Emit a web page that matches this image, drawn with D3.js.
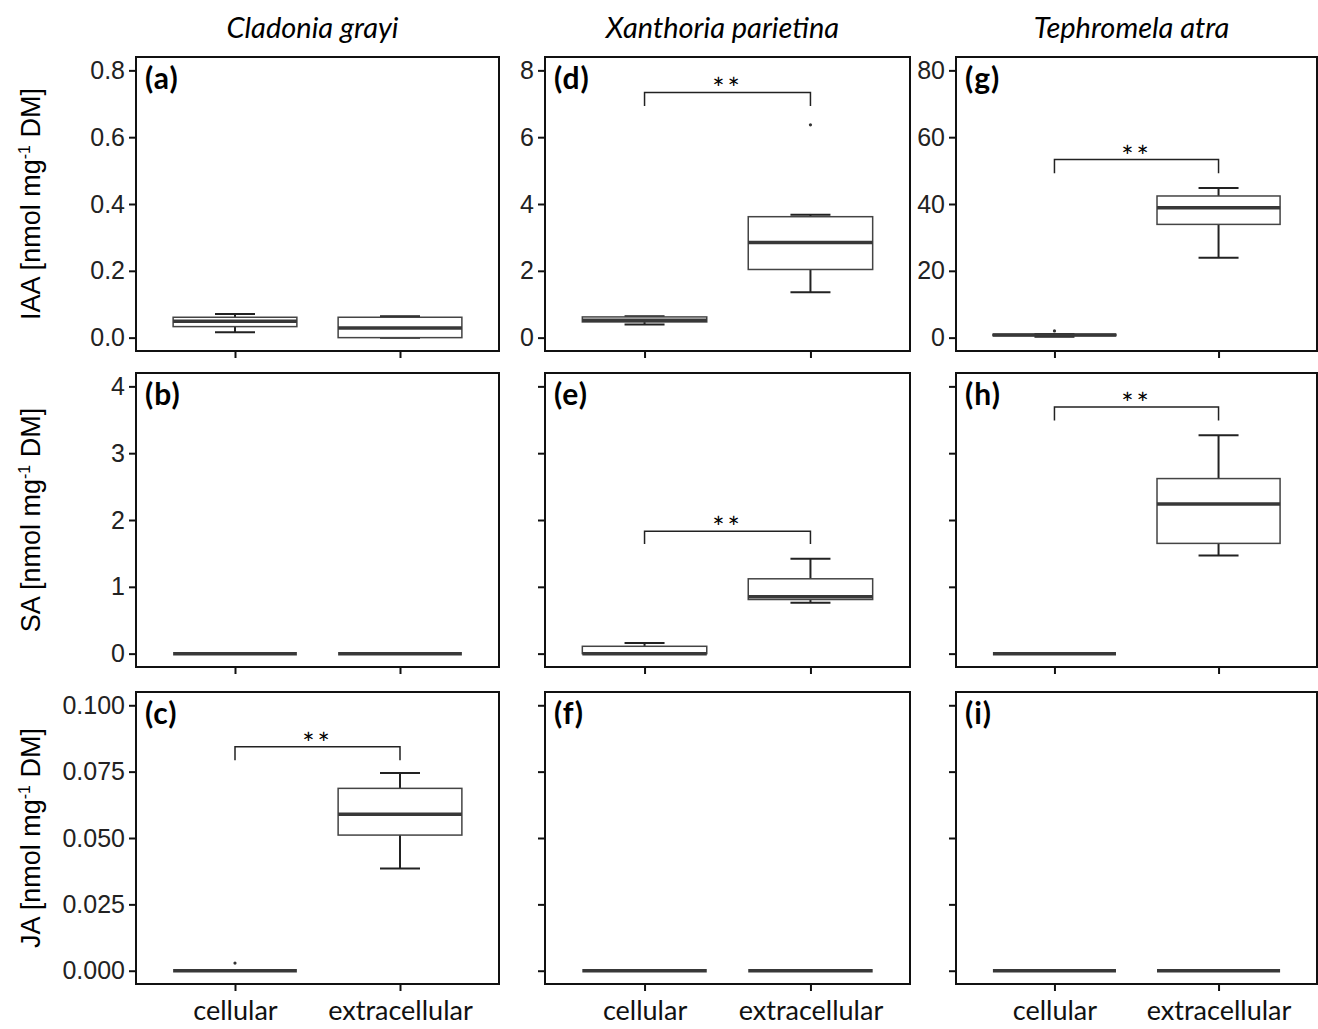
<!DOCTYPE html>
<html>
<head>
<meta charset="utf-8">
<script src="https://cdn.jsdelivr.net/npm/d3@7"></script>
<style>
  body { margin: 0; background: #fff; }
  svg { display: block; }
</style>
</head>
<body>
<div id="chart"></div>
<script>
// boxplot grid: hormone (rows) x lichen species (columns)

const species = ['Cladonia grayi', 'Xanthoria parietina', 'Tephromela atra']
const hormones = ['IAA', 'SA', 'JA']
const groups = ['cellular', 'extracellular']
const panelLetters = [['(a)', '(d)', '(g)'], ['(b)', '(e)', '(h)'], ['(c)', '(f)', '(i)']]

// y ticks: IAA has its own scale per species, SA and JA are shared across a row
const ticksIAA = [[0, 0.2, 0.4, 0.6, 0.8], [0, 2, 4, 6, 8], [0, 20, 40, 60, 80]]
const ticksSA = [0, 1, 2, 3, 4]
const ticksJA = [0, 0.025, 0.05, 0.075, 0.1]

// box stats per species: [cellular, extracellular] -> [min, q1, median, q3, max], outliers
const statsIAA = [
  [{ s: [0.016, 0.033, 0.049, 0.061, 0.071], out: [] }, { s: [0, 0, 0.029, 0.061, 0.064], out: [] }],
  [{ s: [0.39, 0.47, 0.52, 0.62, 0.64], out: [] }, { s: [1.36, 2.04, 2.85, 3.62, 3.68], out: [6.37] }],
  [{ s: [0.3, 0.6, 0.8, 1.0, 1.1], out: [2.0] }, { s: [23.9, 33.9, 38.9, 42.4, 44.8], out: [] }]
]
const statsSA = [
  [{ s: [0, 0, 0, 0, 0], out: [] }, { s: [0, 0, 0, 0, 0], out: [] }],
  [{ s: [0, 0, 0, 0.11, 0.16], out: [] }, { s: [0.76, 0.81, 0.85, 1.12, 1.42], out: [] }],
  [{ s: [0, 0, 0, 0, 0], out: [] }, { s: [1.47, 1.65, 2.24, 2.62, 3.27], out: [] }]
]
const statsJA = [
  [{ s: [0, 0, 0, 0, 0], out: [0.0029] }, { s: [0.0385, 0.0511, 0.0589, 0.0687, 0.0745], out: [] }],
  [{ s: [0, 0, 0, 0, 0], out: [] }, { s: [0, 0, 0, 0, 0], out: [] }],
  [{ s: [0, 0, 0, 0, 0], out: [] }, { s: [0, 0, 0, 0, 0], out: [] }]
]

// significance brackets: [row, col, bracket top, bracket foot]
const signif = [
  [0, 1, 7.34, 6.93],
  [0, 2, 53.3, 49.2],
  [1, 1, 1.83, 1.64],
  [1, 2, 3.69, 3.49],
  [2, 0, 0.0844, 0.0793]
]

const width = 1318
const height = 1029
const colX = [136, 545, 956]
const colW = [363, 365, 361]
const rowY = [57, 373, 692]
const rowH = [294, 294, 292]

const svg = d3.select('#chart')
  .append('svg')
  .attr('width', width)
  .attr('height', height)
  .style('font-family', '"Liberation Sans", Arial, sans-serif')

const labelFont = 'Lato, "Open Sans", sans-serif'

// column titles
species.forEach((sp, c) => {
  svg.append('text')
    .attr('x', colX[c] + colW[c] / 2 - 5)
    .attr('y', 38)
    .attr('text-anchor', 'middle')
    .style('font-family', labelFont)
    .style('font-style', 'italic')
    .style('font-size', '29px')
    .text(sp)
})

function tickList(r, c) {
  if (r === 0) return ticksIAA[c]
  return r === 1 ? ticksSA : ticksJA
}
function statList(r, c) {
  return [statsIAA, statsSA, statsJA][r][c]
}

hormones.forEach((h, r) => {
  // y axis title, with superscript
  const cy = rowY[r] + rowH[r] / 2
  const t = svg.append('text')
    .attr('transform', `translate(40,${cy}) rotate(-90)`)
    .attr('text-anchor', 'middle')
    .style('font-size', '27px')
  t.append('tspan').text(`${h} [nmol mg`)
  t.append('tspan').attr('dy', -10).style('font-size', '16px').text('-1')
  t.append('tspan').attr('dy', 10).text(' DM]')

  species.forEach((sp, c) => {
    const x0 = colX[c]
    const y0 = rowY[r]
    const w = colW[c]
    const hgt = rowH[r]
    const ticks = tickList(r, c)
    const top = ticks[ticks.length - 1]
    const pad = top * 0.05

    const y = d3.scaleLinear().domain([-pad, top + pad]).range([y0 + hgt, y0])
    const x = d3.scalePoint().domain(groups).range([x0, x0 + w]).padding(0.6)
    const step = x.step()
    const bw = step * 0.75
    const capW = 40

    const g = svg.append('g')

    // axes
    const fmt = r === 2 ? d3.format('.3f') : (r === 0 && c === 0 ? d3.format('.1f') : d3.format('d'))
    const yAxis = d3.axisLeft(y).tickValues(ticks).tickSize(7).tickPadding(4)
      .tickFormat(c === 0 || r === 0 ? fmt : () => '')
    g.append('g')
      .attr('transform', `translate(${x0},0)`)
      .call(yAxis)
      .call(a => a.select('.domain').remove())
      .call(a => a.selectAll('line').attr('stroke', '#111').attr('stroke-width', 2))
      .call(a => a.selectAll('text').style('font-size', '25px').attr('fill', '#222'))

    const xAxis = d3.axisBottom(x).tickSize(7).tickPadding(10)
      .tickFormat(r === 2 ? d => d : () => '')
    g.append('g')
      .attr('transform', `translate(0,${y0 + hgt})`)
      .call(xAxis)
      .call(a => a.select('.domain').remove())
      .call(a => a.selectAll('line').attr('stroke', '#111').attr('stroke-width', 2))
      .call(a => a.selectAll('text')
        .style('font-family', labelFont)
        .style('font-size', '27px')
        .attr('fill', '#111'))

    // panel frame
    g.append('rect')
      .attr('x', x0).attr('y', y0)
      .attr('width', w).attr('height', hgt)
      .attr('fill', 'none')
      .attr('stroke', '#111')
      .attr('stroke-width', 2)

    // boxes
    const boxes = g.selectAll('g.box')
      .data(statList(r, c).map((d, i) => ({ ...d, grp: groups[i] })))
      .join('g')
      .attr('class', 'box')

    // whiskers
    boxes.append('line')
      .attr('x1', d => x(d.grp)).attr('x2', d => x(d.grp))
      .attr('y1', d => y(d.s[3])).attr('y2', d => y(d.s[4]))
      .attr('stroke', '#222').attr('stroke-width', 2)
    boxes.append('line')
      .attr('x1', d => x(d.grp)).attr('x2', d => x(d.grp))
      .attr('y1', d => y(d.s[1])).attr('y2', d => y(d.s[0]))
      .attr('stroke', '#222').attr('stroke-width', 2)
    boxes.selectAll('line.cap')
      .data(d => [0, 4].map(k => ({ grp: d.grp, v: d.s[k] })))
      .join('line')
      .attr('class', 'cap')
      .attr('x1', d => x(d.grp) - capW / 2).attr('x2', d => x(d.grp) + capW / 2)
      .attr('y1', d => y(d.v)).attr('y2', d => y(d.v))
      .attr('stroke', '#222').attr('stroke-width', 2)

    boxes.append('rect')
      .attr('x', d => x(d.grp) - bw / 2)
      .attr('y', d => y(d.s[3]))
      .attr('width', bw)
      .attr('height', d => y(d.s[1]) - y(d.s[3]))
      .attr('fill', '#fff')
      .attr('stroke', '#444')
      .attr('stroke-width', 1.5)

    boxes.append('line')
      .attr('x1', d => x(d.grp) - bw / 2).attr('x2', d => x(d.grp) + bw / 2)
      .attr('y1', d => y(d.s[2])).attr('y2', d => y(d.s[2]))
      .attr('stroke', '#383838').attr('stroke-width', 3.5)

    boxes.selectAll('circle')
      .data(d => d.out.map(v => ({ grp: d.grp, v })))
      .join('circle')
      .attr('cx', d => x(d.grp)).attr('cy', d => y(d.v))
      .attr('r', 1.6)
      .attr('fill', '#333')

    // panel letter
    g.append('text')
      .attr('x', x0 + 9).attr('y', y0 + 32)
      .style('font-family', labelFont)
      .style('font-weight', 'bold')
      .style('font-size', '30px')
      .style('letter-spacing', '1px')
      .text(panelLetters[r][c])

    // significance bracket
    signif.filter(s => s[0] === r && s[1] === c).forEach(s => {
      const xa = x(groups[0])
      const xb = x(groups[1])
      g.append('path')
        .attr('d', `M${xa},${y(s[3])}V${y(s[2])}H${xb}V${y(s[3])}`)
        .attr('fill', 'none')
        .attr('stroke', '#222')
        .attr('stroke-width', 1.5)
      g.append('text')
        .attr('x', (xa + xb) / 2)
        .attr('y', y(s[2]) + 7)
        .attr('text-anchor', 'middle')
        .style('font-family', labelFont)
        .style('font-size', '29px')
        .style('letter-spacing', '3px')
        .text('**')
    })
  })
})
</script>
</body>
</html>
